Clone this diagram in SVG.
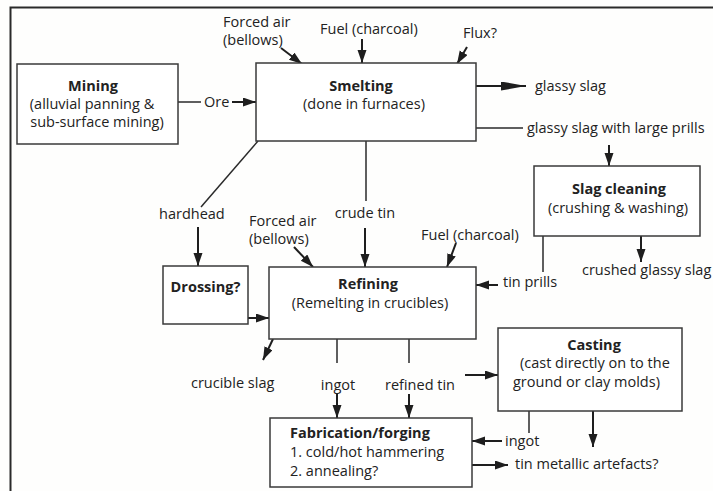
<svg xmlns="http://www.w3.org/2000/svg" width="713" height="491" viewBox="0 0 713 491">
  <style>
    .box { fill: #fff; stroke: #3a3a3a; stroke-width: 1.5; }
    .ln { fill: none; stroke: #2a2a2a; stroke-width: 1.5; }
    .ar { fill: none; stroke: #1e1e1e; stroke-width: 2; marker-end: url(#head); }
    .arl { fill: none; stroke: #1e1e1e; stroke-width: 2; marker-end: url(#longhead); }
    text { font-family: "Open Sans", "Liberation Sans", sans-serif; font-size: 14.5px; fill: #222; }
    .t { font-weight: bold; }
    .c { text-anchor: middle; }
  </style>
  <defs>
    <marker id="head" markerUnits="userSpaceOnUse" markerWidth="14" markerHeight="10" refX="13" refY="4.5" orient="auto">
      <path d="M0,0 L13,4.5 L0,9 Z" fill="#1e1e1e"/>
    </marker>
    <marker id="longhead" markerUnits="userSpaceOnUse" markerWidth="26" markerHeight="10" refX="25" refY="4.5" orient="auto">
      <path d="M0,0 L25,4.5 L0,9 Z" fill="#1e1e1e"/>
    </marker>
  </defs>

  <rect width="713" height="491" fill="#fefefd"/>
  <!-- outer frame (top and left edges) -->
  <path d="M10.5,491 V7.5 H713" fill="none" stroke="#2a2a2a" stroke-width="2"/>

  <g id="connectors">
    <!-- Mining to Smelting -->
    <path class="ln" d="M178,102 H201"/>
    <path class="ar" d="M232,102 H256"/>
    <!-- Smelting inputs -->
    <path class="ar" d="M281,48 L302,64"/>
    <path class="ar" d="M362,39 V63"/>
    <path class="ar" d="M467,47 L457,64"/>
    <!-- Smelting outputs -->
    <path class="arl" d="M476,86 H526"/>
    <path class="ln" d="M476,128 H523"/>
    <path class="ar" d="M609,145 V166"/>
    <path class="ln" d="M258,141 L201,207"/>
    <path class="ar" d="M198,227 V266"/>
    <path class="ln" d="M366,141 V201"/>
    <path class="ar" d="M365,228 V267"/>
    <!-- Refining inputs -->
    <path class="ar" d="M294,247 L313,267"/>
    <path class="ar" d="M456,243 L447,267"/>
    <path class="ln" d="M543,236 V272"/>
    <path class="ar" d="M498,285 H476"/>
    <path class="ar" d="M641,236 V262"/>
    <path class="ar" d="M248,318 H269"/>
    <!-- Refining outputs -->
    <path class="ar" d="M273,339 L263,360"/>
    <path class="ln" d="M337,339 V363"/>
    <path class="ar" d="M337,394 V418"/>
    <path class="ln" d="M409,339 V363"/>
    <path class="ar" d="M409,394 V418"/>
    <path class="ar" d="M465,375 H498"/>
    <!-- Casting outputs -->
    <path class="ln" d="M529,411 V433"/>
    <path class="ar" d="M502,441 H472"/>
    <path class="ar" d="M593,411 V447"/>
    <path class="ar" d="M472,465 H508"/>
  </g>

  <g id="labels">
    <text x="204" y="107">Ore</text>
    <text x="223" y="27">Forced air</text>
    <text x="223" y="45">(bellows)</text>
    <text x="320" y="34">Fuel (charcoal)</text>
    <text x="463" y="38">Flux?</text>
    <text x="535" y="91">glassy slag</text>
    <text x="527" y="133">glassy slag with large prills</text>
    <text x="159" y="219">hardhead</text>
    <text x="249" y="226">Forced air</text>
    <text x="249" y="244">(bellows)</text>
    <text class="c" x="365" y="218">crude tin</text>
    <text x="421" y="240">Fuel (charcoal)</text>
    <text x="503" y="287">tin prills</text>
    <text x="582" y="275">crushed glassy slag</text>
    <text x="191" y="388">crucible slag</text>
    <text class="c" x="338" y="390">ingot</text>
    <text x="385" y="390">refined tin</text>
    <text x="505" y="446">ingot</text>
    <text x="515" y="469">tin metallic artefacts?</text>
  </g>

  <g id="mining">
    <rect class="box" x="17" y="64" width="161" height="80"/>
    <text class="t c" x="93" y="91">Mining</text>
    <text class="c" x="92" y="109">(alluvial panning &amp;</text>
    <text class="c" x="97" y="127">sub-surface mining)</text>
  </g>

  <g id="smelting">
    <rect class="box" x="256" y="63" width="220" height="78"/>
    <text class="t c" x="361" y="91">Smelting</text>
    <text class="c" x="364" y="109">(done in furnaces)</text>
  </g>

  <g id="slag-cleaning">
    <rect class="box" x="534" y="166" width="166" height="70"/>
    <text class="t c" x="619" y="194">Slag cleaning</text>
    <text class="c" x="618" y="213">(crushing &amp; washing)</text>
  </g>

  <g id="drossing">
    <rect class="box" x="163" y="266" width="85" height="58"/>
    <text class="t c" x="205.5" y="292">Drossing?</text>
  </g>

  <g id="refining">
    <rect class="box" x="269" y="267" width="207" height="72"/>
    <text class="t c" x="368" y="289">Refining</text>
    <text class="c" x="370" y="308">(Remelting in crucibles)</text>
  </g>

  <g id="casting">
    <rect class="box" x="498" y="328" width="184" height="83"/>
    <text class="t c" x="594" y="350">Casting</text>
    <text x="520" y="368">(cast directly on to the</text>
    <text x="513" y="387">ground or clay molds)</text>
  </g>

  <g id="fabrication">
    <rect class="box" x="270" y="418" width="202" height="69"/>
    <text class="t" x="290" y="438">Fabrication/forging</text>
    <text x="290" y="457">1. cold/hot hammering</text>
    <text x="290" y="476">2. annealing?</text>
  </g>
</svg>
